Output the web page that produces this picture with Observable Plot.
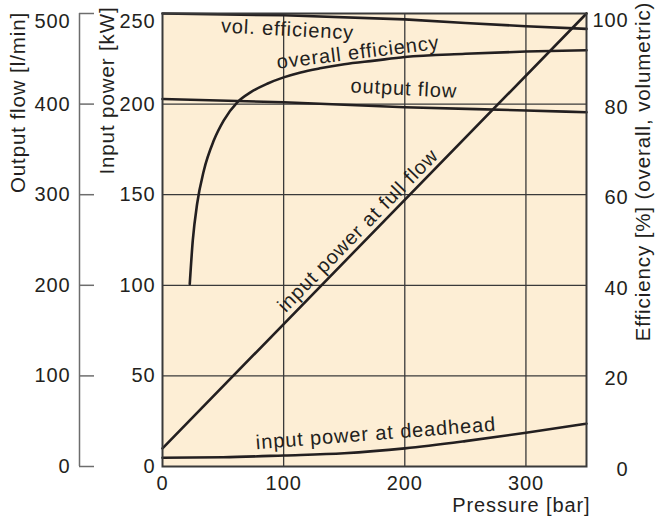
<!DOCTYPE html>
<html><head><meta charset="utf-8">
<script src="https://cdn.jsdelivr.net/npm/d3@7"></script>
<script src="https://cdn.jsdelivr.net/npm/@observablehq/plot@0.6"></script>
<style>
html,body{margin:0;padding:0;background:#fff;}
</style>
</head><body><div id="chart"></div>
<script>
// ---- tick values ----
const pressureTicks = [0, 100, 200, 300];
const powerTicks = [0, 50, 100, 150, 200, 250];
const flowTicks = [0, 100, 200, 300, 400, 500];
const effTicks = [0, 20, 40, 60, 80, 100];

// ---- series (pressure in bar) ----
const volEffP = [0, 100, 200, 250, 300, 350];
const volEff = [100, 99.6, 98.7, 97.9, 97.2, 96.6];            // %
const overallP = [22.5, 25, 28.6, 34.1, 42.4, 50.6, 61.7, 72.6, 86.4, 100, 114, 130, 150, 175, 200, 250, 300, 350];
const overallEff = [40.3, 49.9, 58, 65.3, 72, 76.4, 80.4, 82.6, 84.5, 85.9, 87, 87.9, 88.8, 89.6, 90.4, 91.1, 91.6, 91.9]; // %
const flowP = [0, 100, 200, 300, 350];
const flow = [405.6, 402, 396.6, 393, 391];                     // l/min
const fullP = [0, 350];
const fullPower = [10, 250];                                    // kW
const deadP = [0, 50, 100, 150, 200, 250, 300, 350];
const deadPower = [4.8, 5.1, 6.1, 7.3, 10, 14, 18.6, 23.6];     // kW

const curveNames = ["vol. efficiency", "overall efficiency", "output flow", "input power at full flow", "input power at deadhead"];

// unit conversions onto the shared kW axis
const FLOW_TO_KW = 250 / 500;
const EFF_TO_KW = 250 / 100;

const zip = (xs, ys, k) => xs.map((x, i) => ({p: x, v: ys[i] * k}));
const volData = zip(volEffP, volEff, EFF_TO_KW);
const overallData = zip(overallP, overallEff, EFF_TO_KW);
const flowData = zip(flowP, flow, FLOW_TO_KW);
const fullData = zip(fullP, fullPower, 1);
const deadData = zip(deadP, deadPower, 1);

// annotation placement (label anchors, in bar / kW)
const labelAnchors = [
  {p: 103.2, v: 241.2, r: 3},
  {p: 161.4, v: 228.5, r: -7},
  {p: 199.2, v: 208.5, r: 3},
  {p: 161.4, v: 130.2, r: -45.5},
  {p: 176.2, v: 18.2, r: -4.4}
];
const labels = curveNames.map((t, i) => ({text: t, ...labelAnchors[i]}));

const ink = "#231f20";
const lineStyle = {x: "p", y: "v", stroke: ink, strokeWidth: 2.6};
const centered = {textAnchor: "middle", lineAnchor: "middle"};
const titleSize = 20.5;

const chart = Plot.plot({
  width: 657,
  height: 518,
  marginLeft: 162,
  marginRight: 71,
  marginTop: 13,
  marginBottom: 52,
  style: {fontFamily: "'Liberation Sans', Arial, Helvetica, sans-serif", fontSize: "20px", letterSpacing: "0.9px", color: ink, background: "#fff"},
  x: {domain: [0, 350]},
  y: {domain: [0, 250]},
  marks: [
    Plot.frame({fill: "#fdeed5", stroke: null}),
    Plot.ruleX(pressureTicks.filter(d => d > 0), {stroke: "#3a3a3a", strokeWidth: 1.3}),
    Plot.ruleY(powerTicks.filter(d => d > 0 && d < 250), {stroke: "#3a3a3a", strokeWidth: 1.3}),
    Plot.line(volData, lineStyle),
    Plot.line(overallData, {...lineStyle, curve: "monotone-x"}),
    Plot.line(flowData, {...lineStyle, curve: "monotone-x"}),
    Plot.line(fullData, lineStyle),
    Plot.line(deadData, {...lineStyle, curve: "monotone-x"}),
    Plot.frame({stroke: "#3a3a3a", strokeWidth: 2}),
    // x axis
    Plot.axisX(pressureTicks, {tickSize: 0, tickPadding: 9, fontSize: 20, label: null, fill: ink}),
    // kW axis
    Plot.axisY(powerTicks.filter(d => d < 250), {anchor: "left", tickSize: 0, tickPadding: 7, fontSize: 20, label: null, fill: ink}),
    Plot.axisY([250], {anchor: "left", tickSize: 0, tickPadding: 7, fontSize: 20, label: null, fill: ink, dy: 8}),
    // flow axis (l/min)
    Plot.ruleX([0], {dx: -83, stroke: "#6d6d6d", strokeWidth: 1.5}),
    Plot.ruleY(flowTicks.map(d => d * FLOW_TO_KW), {x1: 0, x2: 0, insetLeft: -83, insetRight: 68, stroke: "#6d6d6d", strokeWidth: 1.5}),
    Plot.axisY(flowTicks.filter(d => d < 500).map(d => d * FLOW_TO_KW), {anchor: "left", tickSize: 0, tickPadding: 0, dx: -92, tickFormat: d => d / FLOW_TO_KW, fontSize: 20, label: null, fill: ink}),
    Plot.axisY([500 * FLOW_TO_KW], {anchor: "left", tickSize: 0, tickPadding: 0, dx: -92, dy: 8, tickFormat: d => d / FLOW_TO_KW, fontSize: 20, label: null, fill: ink}),
    // efficiency axis (%)
    Plot.axisY(effTicks.filter(d => d < 100).map(d => d * EFF_TO_KW), {anchor: "right", tickSize: 0, tickPadding: 0, dx: 42, dy: 3, textAnchor: "end", tickFormat: d => d / EFF_TO_KW, fontSize: 20, label: null, fill: ink}),
    Plot.axisY([100 * EFF_TO_KW], {anchor: "right", tickSize: 0, tickPadding: 0, dx: 42, dy: 7, textAnchor: "end", tickFormat: d => d / EFF_TO_KW, fontSize: 20, label: null, fill: ink}),
    // curve labels
    Plot.text(labels, {x: "p", y: "v", text: "text", rotate: "r", fontSize: 20, fill: ink}),
    // axis titles
    Plot.text(["Output flow [l/min]"], {frameAnchor: "top-left", ...centered, dx: 18 - 162, dy: 102 - 13, rotate: -90, fontSize: titleSize, fill: ink}),
    Plot.text(["Input power [kW]"], {frameAnchor: "top-left", ...centered, dx: 107 - 162, dy: 90 - 13, rotate: -90, fontSize: titleSize, fill: ink}),
    Plot.text(["Efficiency [%] (overall, volumetric)"], {frameAnchor: "top-right", ...centered, dx: 643 - 586, dy: 171 - 13, rotate: -90, fontSize: titleSize, fill: ink}),
    Plot.text(["Pressure [bar]"], {frameAnchor: "bottom-right", textAnchor: "end", lineAnchor: "middle", dx: 4, dy: 39, fontSize: 20, fill: ink})
  ]
});
document.getElementById("chart").appendChild(chart);
</script>
</body></html>
